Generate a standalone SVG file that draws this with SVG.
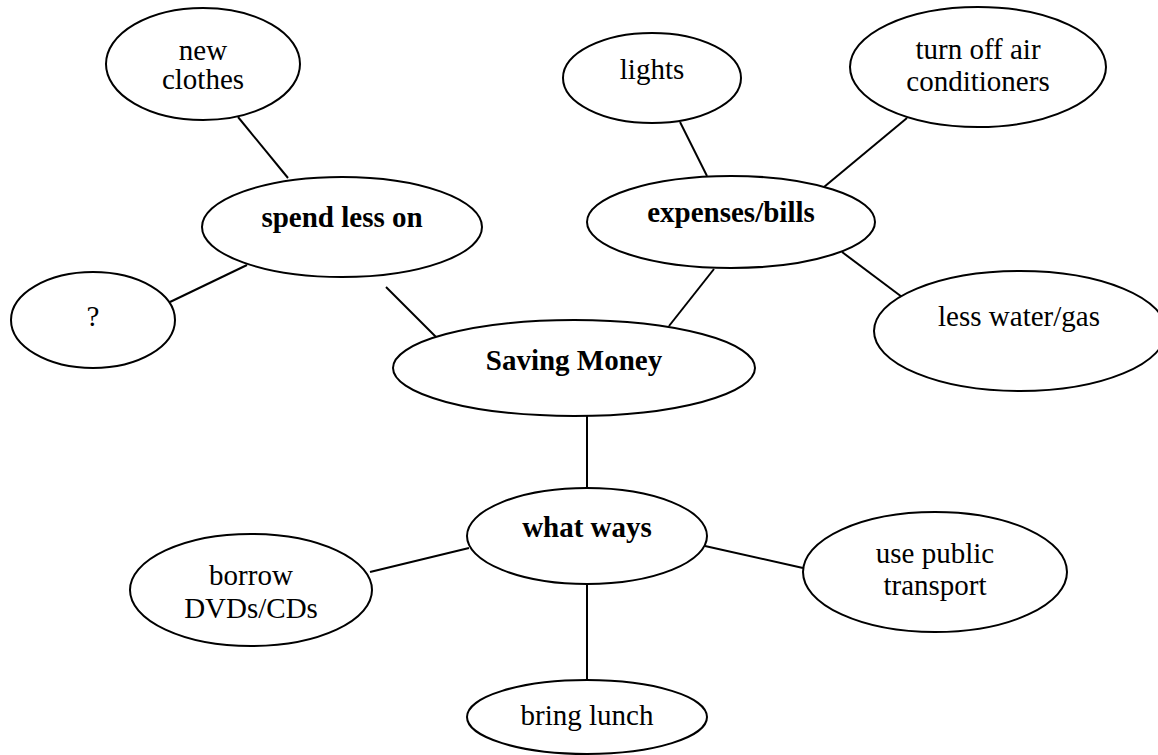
<svg xmlns="http://www.w3.org/2000/svg" width="1158" height="755" viewBox="0 0 1158 755">
<style>
  .n ellipse { fill: #ffffff; stroke: #000000; stroke-width: 2; }
  .n text { font-family: "Liberation Serif", "Times New Roman", serif; font-size: 29px; fill: #000000; text-anchor: middle; }
  .b text { font-weight: bold; }
  #connectors line { stroke: #000000; stroke-width: 2; }
</style>
<rect width="1158" height="755" fill="#ffffff"/>
<g id="connectors">
  <line x1="238" y1="117" x2="288" y2="178"/>
  <line x1="170" y1="302" x2="247" y2="265"/>
  <line x1="386" y1="287" x2="436" y2="337"/>
  <line x1="680" y1="122" x2="707" y2="176"/>
  <line x1="907" y1="118" x2="824" y2="187"/>
  <line x1="842" y1="252" x2="902" y2="297"/>
  <line x1="714" y1="269" x2="669" y2="326"/>
  <line x1="587" y1="416" x2="587" y2="488"/>
  <line x1="469" y1="548" x2="370" y2="572"/>
  <line x1="705" y1="546" x2="803" y2="568"/>
  <line x1="587" y1="584" x2="587" y2="680"/>
</g>
<g id="node-new-clothes" class="n">
  <ellipse cx="203" cy="64" rx="97" ry="56"/>
  <text x="203" y="60">new</text>
  <text x="203" y="89">clothes</text>
</g>
<g id="node-question" class="n">
  <ellipse cx="93" cy="320" rx="82" ry="48"/>
  <text x="93" y="326">?</text>
</g>
<g id="node-spend-less-on" class="n b">
  <ellipse cx="342" cy="227" rx="140" ry="50"/>
  <text x="342" y="227">spend less on</text>
</g>
<g id="node-lights" class="n">
  <ellipse cx="652" cy="78" rx="89" ry="45"/>
  <text x="652" y="79">lights</text>
</g>
<g id="node-turn-off" class="n">
  <ellipse cx="978" cy="67" rx="128" ry="60"/>
  <text x="978" y="59">turn off air</text>
  <text x="978" y="91">conditioners</text>
</g>
<g id="node-expenses" class="n b">
  <ellipse cx="731" cy="222" rx="144" ry="46"/>
  <text x="731" y="222">expenses/bills</text>
</g>
<g id="node-less-water" class="n">
  <ellipse cx="1020" cy="331" rx="146" ry="60"/>
  <text x="1019" y="326">less water/gas</text>
</g>
<g id="node-saving-money" class="n b">
  <ellipse cx="574" cy="368" rx="181" ry="48"/>
  <text x="574" y="370">Saving Money</text>
</g>
<g id="node-what-ways" class="n b">
  <ellipse cx="587" cy="536" rx="120" ry="48"/>
  <text x="587" y="537">what ways</text>
</g>
<g id="node-borrow" class="n">
  <ellipse cx="251" cy="590" rx="121" ry="56"/>
  <text x="251" y="585">borrow</text>
  <text x="251" y="618">DVDs/CDs</text>
</g>
<g id="node-public-transport" class="n">
  <ellipse cx="935" cy="572" rx="132" ry="60"/>
  <text x="935" y="563">use public</text>
  <text x="935" y="595">transport</text>
</g>
<g id="node-bring-lunch" class="n">
  <ellipse cx="587" cy="717" rx="120" ry="37"/>
  <text x="587" y="725">bring lunch</text>
</g>
</svg>
